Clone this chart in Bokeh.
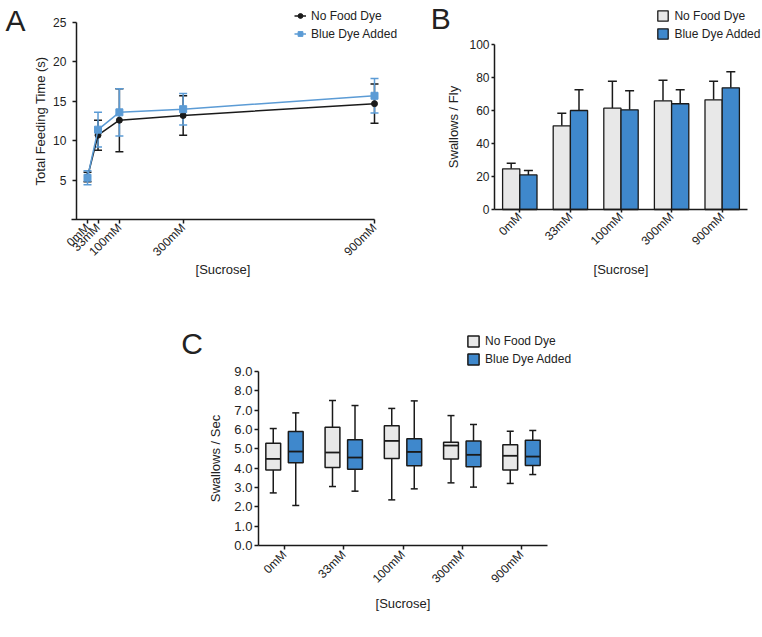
import numpy as np
from bokeh.plotting import figure
from bokeh.models import (Range1d, FixedTicker, Legend, LegendItem, Label, LinearAxis,
                          ColumnDataSource, NumeralTickFormatter, Whisker, TeeHead)
from bokeh.embed import file_html
from bokeh.resources import INLINE

FONT = "Liberation Sans"
INK = "#1a1a1a"
TXT = "#222222"
GREY = "#e8e8e8"
BLUE_BAR = "#3f88cc"
BLUE_LINE = "#5b9bd5"

# ---------------- data ----------------
conc_labels = ["0mM", "33mM", "100mM", "300mM", "900mM"]
conc_values = [0, 33, 100, 300, 900]
series_names = ["No Food Dye", "Blue Dye Added"]

# Panel A: total feeding time (s), mean +/- error
a_nodye_mean = [5.4, 10.7, 12.6, 13.2, 14.7]
a_nodye_err = [0.6, 1.9, 4.0, 2.5, 2.5]
a_blue_mean = [5.3, 11.4, 13.6, 14.0, 15.7]
a_blue_err = [0.9, 2.2, 3.0, 2.0, 2.2]
a_yticks = [5, 10, 15, 20, 25]

# Panel B: swallows / fly, mean + error
b_nodye_mean = [24.7, 50.8, 61.5, 66.0, 66.6]
b_nodye_err = [3.4, 7.7, 16.4, 12.5, 11.3]
b_blue_mean = [21.0, 60.1, 60.5, 64.2, 73.9]
b_blue_err = [2.7, 12.6, 11.6, 8.5, 9.7]
b_yticks = [0, 20, 40, 60, 80, 100]

# Panel C: swallows / sec, box plots
c_nodye_min = [2.72, 3.05, 2.36, 3.24, 3.21]
c_nodye_q1 = [3.90, 4.03, 4.50, 4.48, 3.91]
c_nodye_med = [4.48, 4.81, 5.41, 5.17, 4.64]
c_nodye_q3 = [5.29, 6.12, 6.19, 5.34, 5.21]
c_nodye_max = [6.05, 7.50, 7.09, 6.72, 5.91]
c_blue_min = [2.07, 2.81, 2.93, 3.02, 3.67]
c_blue_q1 = [4.28, 3.95, 4.12, 4.07, 4.14]
c_blue_med = [4.86, 4.55, 4.84, 4.69, 4.60]
c_blue_q3 = [5.90, 5.47, 5.52, 5.40, 5.45]
c_blue_max = [6.86, 7.24, 7.48, 6.26, 5.95]
c_yticks = [0, 1, 2, 3, 4, 5, 6, 7, 8, 9]

# ---------------- layout (canvas pixels) ----------------
W, H = 762, 630


def xr(v0, p0, v1, p1):
    k = (v1 - v0) / (p1 - p0)
    return Range1d(v0 - p0 * k, v0 + (W - p0) * k)


def yr(v0, p0, v1, p1):
    q0, q1 = H - p0, H - p1
    k = (v1 - v0) / (q1 - q0)
    return Range1d(v0 - q0 * k, v0 + (H - q0) * k)


cat_pos = np.arange(len(conc_labels), dtype=float)

p = figure(width=W, height=H, x_range=xr(0, 87, 900, 374), y_range=yr(0, 219, 25, 22),
           x_axis_location=None, y_axis_location=None, min_border=0,
           output_backend="svg", toolbar_location=None)
p.extra_x_ranges = {"bx": xr(0, 519.3, 4, 721.7), "cx": xr(0, 284, 4, 521),
                    "px": Range1d(0, W)}
p.extra_y_ranges = {"by": yr(0, 209, 100, 44.3), "cy": yr(0, 545, 9, 371),
                    "py": Range1d(H, 0)}
p.outline_line_color = None
p.grid.visible = False
p.background_fill_color = "white"
p.border_fill_color = "white"


def make_axis(xn, yn, loc, bounds, ticks, place, tick_out=4, lab_size="12px",
              lab_standoff=2, axis_label=None, axis_standoff=4, overrides=None, rotate=False):
    ax = LinearAxis(x_range_name=xn, y_range_name=yn, fixed_location=loc, bounds=bounds,
                    ticker=FixedTicker(ticks=list(ticks)))
    ax.axis_line_color = INK
    ax.axis_line_width = 1.5
    ax.major_tick_line_color = INK
    ax.major_tick_line_width = 1.5
    ax.major_tick_out = tick_out
    ax.major_tick_in = 0
    ax.minor_tick_out = 0
    ax.minor_tick_in = 0
    ax.major_label_text_font = FONT
    ax.major_label_text_font_size = lab_size
    ax.major_label_text_color = TXT
    ax.major_label_standoff = lab_standoff
    if overrides:
        ax.major_label_overrides = overrides
    if rotate:
        ax.major_label_orientation = np.pi / 4
    if axis_label:
        ax.axis_label = axis_label
        ax.axis_label_text_font = FONT
        ax.axis_label_text_font_size = "13px"
        ax.axis_label_text_font_style = "normal"
        ax.axis_label_text_color = TXT
        ax.axis_label_standoff = axis_standoff
    p.add_layout(ax, place)
    return ax


def make_legend(items, x_left, y_bottom, gw, gh):
    lg = Legend(items=items, location=(x_left, H - y_bottom), glyph_width=gw, glyph_height=gh,
                label_height=gh, spacing=4, padding=0, margin=0, label_standoff=5,
                border_line_alpha=0, background_fill_alpha=0,
                label_text_font=FONT, label_text_font_size="12px", label_text_color=TXT)
    p.add_layout(lg)


def panel_letter(text, x, y):
    p.add_layout(Label(x=x, y=y, x_range_name="px", y_range_name="py", text=text,
                       text_font=FONT, text_font_size="30px", text_color=TXT,
                       text_align="left", text_baseline="alphabetic"))


# ---------------- Panel A ----------------
src_a_nd = ColumnDataSource(dict(x=conc_values, m=a_nodye_mean,
                                 lo=np.array(a_nodye_mean) - np.array(a_nodye_err),
                                 hi=np.array(a_nodye_mean) + np.array(a_nodye_err)))
src_a_bl = ColumnDataSource(dict(x=conc_values, m=a_blue_mean,
                                 lo=np.array(a_blue_mean) - np.array(a_blue_err),
                                 hi=np.array(a_blue_mean) + np.array(a_blue_err)))
for src, col in ((src_a_nd, INK), (src_a_bl, BLUE_LINE)):
    p.add_layout(Whisker(base="x", lower="lo", upper="hi", source=src,
                         line_color=col, line_width=1.5,
                         upper_head=TeeHead(size=8, line_color=col, line_width=1.5),
                         lower_head=TeeHead(size=8, line_color=col, line_width=1.5)))
l_nd = p.line("x", "m", source=src_a_nd, line_color=INK, line_width=1.5)
s_nd = p.scatter("x", "m", source=src_a_nd, marker="circle", size=6,
                 fill_color=INK, line_color=INK)
l_bl = p.line("x", "m", source=src_a_bl, line_color=BLUE_LINE, line_width=1.5)
s_bl = p.scatter("x", "m", source=src_a_bl, marker="square", size=7,
                 fill_color=BLUE_LINE, line_color=BLUE_LINE)

make_axis("default", "default", 0, (-50, 900), conc_values, "below",
          tick_out=4, lab_standoff=2, axis_label="[Sucrose]", axis_standoff=-5,
          overrides={v: lab for v, lab in zip(conc_values, conc_labels)}, rotate=True)
make_axis("default", "default", -35, (0, 25), a_yticks, "left",
          tick_out=4, lab_standoff=6, axis_label="Total Feeding Time (s)", axis_standoff=2)
make_legend([LegendItem(label=series_names[0], renderers=[l_nd, s_nd]),
             LegendItem(label=series_names[1], renderers=[l_bl, s_bl])], 294, 40.5, 12, 13)
panel_letter("A", 5, 20)

# ---------------- Panel B ----------------
OFF_B = 0.17
src_b = ColumnDataSource(dict(xn=cat_pos - OFF_B, xb=cat_pos + OFF_B,
                              nd=b_nodye_mean, bl=b_blue_mean,
                              nd_hi=np.array(b_nodye_mean) + np.array(b_nodye_err),
                              bl_hi=np.array(b_blue_mean) + np.array(b_blue_err)))
for base, top, hi in (("xn", "nd", "nd_hi"), ("xb", "bl", "bl_hi")):
    p.add_layout(Whisker(base=base, lower=top, upper=hi, source=src_b,
                         x_range_name="bx", y_range_name="by",
                         line_color=INK, line_width=1.5, lower_head=None,
                         upper_head=TeeHead(size=9, line_color=INK, line_width=1.5)))
vb_nd = p.vbar(x="xn", top="nd", bottom=0, width=0.34, source=src_b,
               x_range_name="bx", y_range_name="by",
               fill_color=GREY, line_color=INK, line_width=1.3)
vb_bl = p.vbar(x="xb", top="bl", bottom=0, width=0.34, source=src_b,
               x_range_name="bx", y_range_name="by",
               fill_color=BLUE_BAR, line_color=INK, line_width=1.3)

make_axis("bx", "by", 0, (-0.5, 4.5), cat_pos, "below",
          tick_out=3, lab_standoff=2, axis_label="[Sucrose]", axis_standoff=6,
          overrides={int(i): lab for i, lab in zip(cat_pos, conc_labels)}, rotate=True)
make_axis("bx", "by", -0.5, (0, 100), b_yticks, "left",
          tick_out=3, lab_standoff=2, axis_label="Swallows / Fly", axis_standoff=5)
make_legend([LegendItem(label=series_names[0], renderers=[vb_nd]),
             LegendItem(label=series_names[1], renderers=[vb_bl])], 656.4, 40.8, 13, 13)
panel_letter("B", 430.3, 18.3)

# ---------------- Panel C ----------------
OFF_C = 0.19
BW = 0.25
src_c = ColumnDataSource(dict(xn=cat_pos - OFF_C, xb=cat_pos + OFF_C,
                              nd_min=c_nodye_min, nd_q1=c_nodye_q1, nd_med=c_nodye_med,
                              nd_q3=c_nodye_q3, nd_max=c_nodye_max,
                              bl_min=c_blue_min, bl_q1=c_blue_q1, bl_med=c_blue_med,
                              bl_q3=c_blue_q3, bl_max=c_blue_max))
rends = {}
for base, pre, fill in (("xn", "nd", GREY), ("xb", "bl", BLUE_BAR)):
    p.add_layout(Whisker(base=base, lower=pre + "_q3", upper=pre + "_max", source=src_c,
                         x_range_name="cx", y_range_name="cy",
                         line_color=INK, line_width=1.5, lower_head=None,
                         upper_head=TeeHead(size=7, line_color=INK, line_width=1.5)))
    p.add_layout(Whisker(base=base, lower=pre + "_min", upper=pre + "_q1", source=src_c,
                         x_range_name="cx", y_range_name="cy",
                         line_color=INK, line_width=1.5, upper_head=None,
                         lower_head=TeeHead(size=7, line_color=INK, line_width=1.5)))
    rends[pre] = p.vbar(x=base, top=pre + "_q3", bottom=pre + "_q1", width=BW, source=src_c,
                        x_range_name="cx", y_range_name="cy",
                        fill_color=fill, line_color=INK, line_width=1.5)
    src_c.data[base + "_l"] = src_c.data[base] - BW / 2
    src_c.data[base + "_r"] = src_c.data[base] + BW / 2
    p.segment(x0=base + "_l", x1=base + "_r", y0=pre + "_med", y1=pre + "_med", source=src_c,
              x_range_name="cx", y_range_name="cy", line_color=INK, line_width=1.8)

make_axis("cx", "cy", 0, (-0.44, 4.44), cat_pos, "below",
          tick_out=4, lab_standoff=3, axis_label="[Sucrose]", axis_standoff=2,
          overrides={int(i): lab for i, lab in zip(cat_pos, conc_labels)}, rotate=True)
cy_axis = make_axis("cx", "cy", -0.44, (0, 9), c_yticks, "left",
                    tick_out=4, lab_size="13px", lab_standoff=2,
                    axis_label="Swallows / Sec", axis_standoff=8)
cy_axis.formatter = NumeralTickFormatter(format="0.0")
make_legend([LegendItem(label=series_names[0], renderers=[rends["nd"]]),
             LegendItem(label=series_names[1], renderers=[rends["bl"]])], 466, 366.3, 14, 14)
panel_letter("C", 180.8, 343)

open("out.html", "w").write(file_html(p, INLINE))
